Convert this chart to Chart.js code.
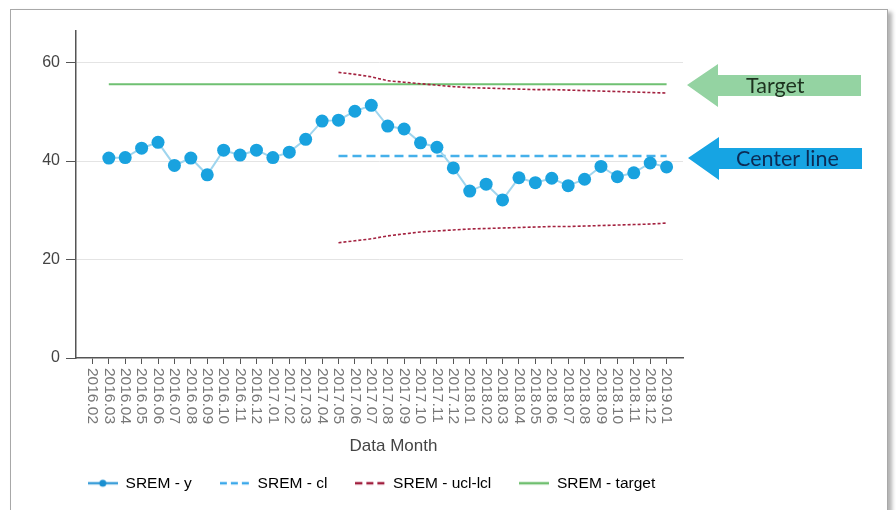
<!DOCTYPE html>
<html>
<head>
<meta charset="utf-8">
<script src="https://cdn.jsdelivr.net/npm/chart.js@4.4.1/dist/chart.umd.min.js"></script>
<style>
  html, body { margin: 0; padding: 0; background: #fff; }
  body { width: 896px; height: 510px; position: relative; overflow: hidden; }
  #frame { position: absolute; left: 10px; top: 9px; width: 876px; height: 540px; border: 1px solid #a8a8a8; box-shadow: 4px 3px 4px rgba(0,0,0,0.3); background: #fff; }
  #chart { position: absolute; left: 0; top: 0; }
  .arrow { position: absolute; width: 174px; height: 43px; }
  .arrow .shape { position: absolute; left: 0; top: 0; width: 100%; height: 100%;
    clip-path: polygon(0 21px, 31px 0, 31px 11px, 100% 11px, 100% 32px, 31px 32px, 31px 43px); }
  .arrow span { position: absolute; top: 0; height: 43px; line-height: 43px; font-family: Lato, "Open Sans", sans-serif; font-size: 21.5px; }
  #targetArrow { left: 687px; top: 64px; }
  #targetArrow .shape { background: #94d3a2; }
  #targetArrow span { left: 59px; color: #1d331f; }
  #centerArrow { left: 688px; top: 137px; }
  #centerArrow .shape { background: #16a4e3; }
  #centerArrow span { left: 48px; color: #0c2b55; }
</style>
</head>
<body>
<div id="frame"></div>
<canvas id="chart" width="896" height="510"></canvas>
<div class="arrow" id="targetArrow"><div class="shape"></div><span>Target</span></div>
<div class="arrow" id="centerArrow"><div class="shape"></div><span>Center line</span></div>
<script>
const months = [
    '2016.02', '2016.03', '2016.04', '2016.05', '2016.06', '2016.07', '2016.08', '2016.09',
    '2016.10', '2016.11', '2016.12', '2017.01', '2017.02', '2017.03', '2017.04', '2017.05',
    '2017.06', '2017.07', '2017.08', '2017.09', '2017.10', '2017.11', '2017.12', '2018.01',
    '2018.02', '2018.03', '2018.04', '2018.05', '2018.06', '2018.07', '2018.08', '2018.09',
    '2018.10', '2018.11', '2018.12', '2019.01'
];

const sremY = [
    null, 40.6, 40.7, 42.6, 43.8, 39.1, 40.6, 37.2,
    42.2, 41.2, 42.2, 40.7, 41.8, 44.4, 48.1, 48.3,
    50.1, 51.3, 47.1, 46.5, 43.7, 42.8, 38.6, 33.9,
    35.3, 32.1, 36.6, 35.6, 36.5, 35.0, 36.3, 38.9,
    36.8, 37.6, 39.6, 38.8
];

const sremCl = [
    null, null, null, null, null, null, null, null,
    null, null, null, null, null, null, null, 41.0,
    41.0, 41.0, 41.0, 41.0, 41.0, 41.0, 41.0, 41.0,
    41.0, 41.0, 41.0, 41.0, 41.0, 41.0, 41.0, 41.0,
    41.0, 41.0, 41.0, 41.0
];

const sremUcl = [
    null, null, null, null, null, null, null, null,
    null, null, null, null, null, null, null, 58.0,
    57.6, 57.1, 56.3, 56.0, 55.7, 55.4, 55.1, 54.9,
    54.8, 54.7, 54.6, 54.5, 54.5, 54.4, 54.3, 54.2,
    54.1, 54.0, 53.9, 53.8
];

const sremLcl = [
    null, null, null, null, null, null, null, null,
    null, null, null, null, null, null, null, 23.4,
    23.8, 24.2, 24.8, 25.2, 25.6, 25.8, 26.0, 26.2,
    26.3, 26.4, 26.5, 26.6, 26.7, 26.7, 26.8, 26.9,
    27.0, 27.1, 27.2, 27.4
];

const sremTarget = [
    null, 55.6, 55.6, 55.6, 55.6, 55.6, 55.6, 55.6,
    55.6, 55.6, 55.6, 55.6, 55.6, 55.6, 55.6, 55.6,
    55.6, 55.6, 55.6, 55.6, 55.6, 55.6, 55.6, 55.6,
    55.6, 55.6, 55.6, 55.6, 55.6, 55.6, 55.6, 55.6,
    55.6, 55.6, 55.6, 55.6
];

const yTicks = [0, 20, 40, 60];
const legendNames = ['SREM - y', 'SREM - cl', 'SREM - ucl-lcl', 'SREM - target'];

// one empty slot on each side so the first/last month sit a step in from the axis ends
const labels = [''].concat(months, ['']);
const pad = arr => [null].concat(arr, [null]);

// legend symbols drawn as small canvases
function legendSymbol(color, dash, width, dot) {
    const c = document.createElement('canvas');
    c.width = 30;
    c.height = 14;
    const g = c.getContext('2d');
    g.strokeStyle = color;
    g.lineWidth = width;
    g.setLineDash(dash);
    g.beginPath();
    g.moveTo(0, 7);
    g.lineTo(30, 7);
    g.stroke();
    if (dot) {
        g.fillStyle = dot;
        g.beginPath();
        g.arc(15, 7, 3.5, 0, Math.PI * 2);
        g.fill();
    }
    return c;
}

const symbols = [
    legendSymbol('#3d9fd9', [], 2.5, '#1a8fd0'),
    legendSymbol('#3aa8ea', [7, 4], 2.5),
    legendSymbol('#a01d3d', [7, 4], 2.5),
    legendSymbol('#6fbf6f', [], 2.5)
];

const transparent = 'rgba(0,0,0,0)';

// month labels read top to bottom, plus the axis title
const monthAxisLabels = {
    id: 'monthAxisLabels',
    afterLayout(chart) {
        // legend sits a little right of the plot's centre
        chart.legend.left += 9;
        chart.legend.right += 9;
    },
    afterDraw(chart) {
        const xs = chart.scales.x;
        const ctx = chart.ctx;
        ctx.save();
        ctx.font = '15.5px "Liberation Sans", Arial, sans-serif';
        ctx.fillStyle = '#777';
        ctx.textAlign = 'left';
        ctx.textBaseline = 'middle';
        xs.ticks.forEach((t, i) => {
            const label = labels[t.value];
            if (!label) return;
            ctx.save();
            ctx.translate(xs.getPixelForTick(i), xs.top + 10);
            ctx.rotate(Math.PI / 2);
            ctx.fillText(label, 0, 0);
            ctx.restore();
        });
        ctx.font = '17px "Liberation Sans", Arial, sans-serif';
        ctx.fillStyle = '#444';
        ctx.textAlign = 'center';
        ctx.fillText('Data Month', (xs.left + xs.right) / 2 + 14, xs.top + 88);
        ctx.restore();
    }
};

const ctx = document.getElementById('chart').getContext('2d');

new Chart(ctx, {
    type: 'line',
    data: {
        labels: labels,
        datasets: [
            {
                label: legendNames[0],
                data: pad(sremY),
                borderColor: '#9fd5ee',
                borderWidth: 2,
                pointRadius: 6.5,
                pointBackgroundColor: '#19a2df',
                pointBorderColor: '#19a2df',
                pointBorderWidth: 0,
                tension: 0
            },
            {
                label: legendNames[1],
                data: pad(sremCl),
                borderColor: '#45b0ea',
                borderWidth: 2.5,
                borderDash: [9, 5],
                pointRadius: 0
            },
            {
                label: legendNames[2],
                data: pad(sremUcl),
                borderColor: '#a3213f',
                borderWidth: 1.6,
                borderDash: [3, 2],
                pointRadius: 0
            },
            {
                label: legendNames[2],
                data: pad(sremLcl),
                borderColor: '#a3213f',
                borderWidth: 1.6,
                borderDash: [3, 2],
                pointRadius: 0
            },
            {
                label: legendNames[3],
                data: pad(sremTarget),
                borderColor: '#6fc072',
                borderWidth: 2,
                pointRadius: 0
            }
        ]
    },
    options: {
        responsive: false,
        animation: false,
        events: [],
        layout: {
            padding: { left: 42, right: 213, top: 31, bottom: 9 }
        },
        plugins: {
            tooltip: { enabled: false },
            legend: {
                position: 'bottom',
                labels: {
                    usePointStyle: true,
                    pointStyleWidth: 30,
                    padding: 28,
                    color: '#444',
                    font: { family: '"Liberation Sans", Arial, sans-serif', size: 15.5 },
                    generateLabels: function () {
                        return legendNames.map((name, i) => ({
                            text: name,
                            pointStyle: symbols[i],
                            fillStyle: transparent,
                            strokeStyle: transparent,
                            lineWidth: 0,
                            hidden: false,
                            datasetIndex: i
                        }));
                    }
                }
            }
        },
        scales: {
            x: {
                type: 'category',
                offset: false,
                afterFit: function (scale) {
                    scale.height = 89.5;
                },
                ticks: { display: false, autoSkip: false },
                grid: {
                    drawOnChartArea: false,
                    drawTicks: true,
                    tickLength: 6,
                    tickColor: function (c) {
                        return c.tick && labels[c.tick.value] ? '#555' : transparent;
                    }
                },
                border: { color: '#555', width: 1.5 }
            },
            y: {
                min: 0,
                max: 66.4,
                afterFit: function (scale) {
                    scale.width = 34;
                },
                afterBuildTicks: function (scale) {
                    scale.ticks = scale.ticks.filter(t => yTicks.includes(t.value));
                },
                ticks: {
                    stepSize: 20,
                    padding: 6,
                    color: '#444',
                    font: { family: '"Liberation Sans", Arial, sans-serif', size: 16 }
                },
                grid: {
                    color: function (c) {
                        return c.tick && c.tick.value === 0 ? transparent : '#e4e4e4';
                    },
                    tickLength: 10,
                    tickColor: '#555'
                },
                border: { color: '#555', width: 1.5 }
            }
        }
    },
    plugins: [monthAxisLabels]
});
</script>
</body>
</html>
